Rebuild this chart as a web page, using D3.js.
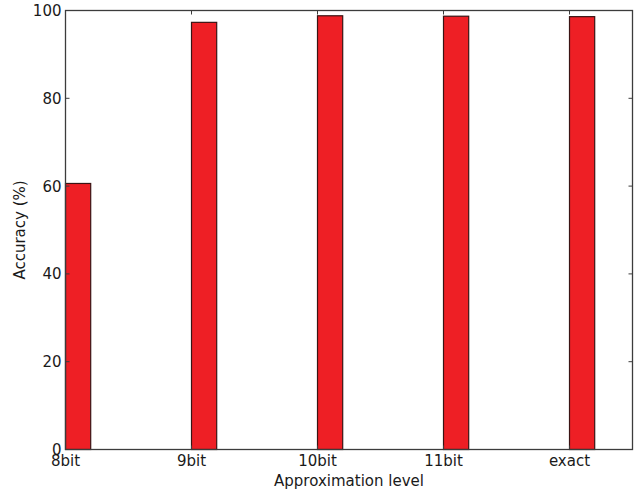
<!DOCTYPE html>
<html><head><meta charset="utf-8">
<script src="https://cdn.jsdelivr.net/npm/d3@7"></script>
<style>body{margin:0;background:#fff}text{font-family:"DejaVu Sans",sans-serif}</style>
</head><body>
<script>
const categories = ["8bit","9bit","10bit","11bit","exact"];
const accuracy = [60.6, 97.3, 98.8, 98.7, 98.6];
const yTicks = [0,20,40,60,80,100];

const W=639,H=493;
const L=65.5,R=632.5,T=10.5,B=449.5;
const svg=d3.select("body").append("svg").attr("width",W).attr("height",H);
const x=d3.scaleLinear().domain([0,4.5]).range([L,R]);
const y=d3.scaleLinear().domain([0,100]).range([B,T]);
const axisColor="#3c3c3c";

svg.selectAll("rect.bar").data(accuracy).enter().append("rect")
  .attr("x",(d,i)=>x(i)).attr("width",x(0.2)-x(0))
  .attr("y",d=>y(d)).attr("height",d=>y(0)-y(d))
  .attr("fill","#ee1f25").attr("stroke","#3a1414").attr("stroke-width",1.2);

// ticks (inward, all four sides)
const g=svg.append("g").attr("stroke",axisColor).attr("stroke-width",1);
yTicks.forEach(t=>{
  g.append("line").attr("x1",L).attr("x2",L+4).attr("y1",y(t)).attr("y2",y(t));
  g.append("line").attr("x1",R).attr("x2",R-4).attr("y1",y(t)).attr("y2",y(t));
});
categories.forEach((c,i)=>{
  g.append("line").attr("x1",x(i)).attr("x2",x(i)).attr("y1",B).attr("y2",B-4);
  g.append("line").attr("x1",x(i)).attr("x2",x(i)).attr("y1",T).attr("y2",T+4);
});
svg.append("rect").attr("x",L).attr("y",T).attr("width",R-L).attr("height",B-T)
  .attr("fill","none").attr("stroke",axisColor).attr("stroke-width",1.3);

svg.selectAll("text.yt").data(yTicks).enter().append("text")
  .attr("x",L-4).attr("y",d=>y(d)+5.5).attr("text-anchor","end")
  .attr("font-size",15).attr("fill","#1a1a1a").text(d=>d);
svg.selectAll("text.xt").data(categories).enter().append("text")
  .attr("x",(d,i)=>x(i)).attr("y",B+16).attr("text-anchor","middle")
  .attr("font-size",15).attr("fill","#1a1a1a").text(d=>d);

svg.append("text").attr("x",(L+R)/2).attr("y",486).attr("text-anchor","middle")
  .attr("font-size",15).attr("fill","#1a1a1a").text("Approximation level");
svg.append("text").attr("transform",`translate(25,${(T+B)/2}) rotate(-90)`)
  .attr("text-anchor","middle").attr("font-size",15).attr("fill","#1a1a1a").text("Accuracy (%)");
</script>
</body></html>
